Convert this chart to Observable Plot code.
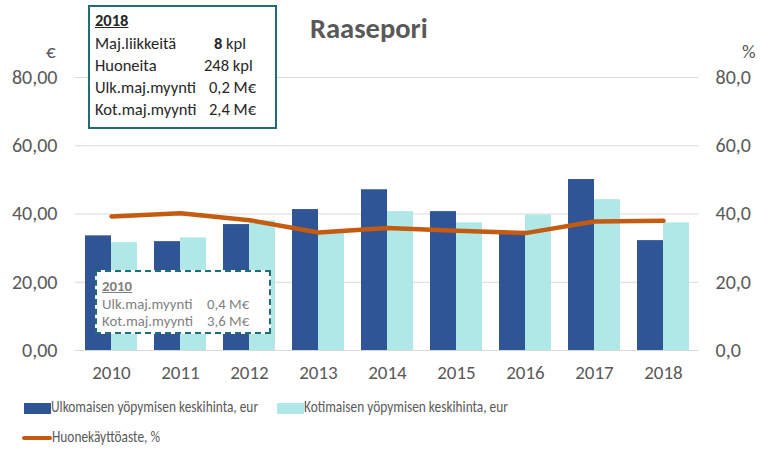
<!DOCTYPE html>
<html>
<head>
<meta charset="utf-8">
<script src="https://cdn.jsdelivr.net/npm/d3@7"></script>
<script src="https://cdn.jsdelivr.net/npm/@observablehq/plot@0.6"></script>
<style>
  html, body { margin: 0; padding: 0; background: #fff; }
  #chart { position: relative; width: 764px; height: 454px; font-family: Carlito, Lato, "Open Sans", sans-serif; color: #595959; overflow: hidden; }
  #chart svg { position: absolute; left: 0; top: 0; }
  .abs { position: absolute; white-space: nowrap; }
  .box1 { left: 88px; top: 5px; width: 185px; height: 120px; border: 2px solid #1E6E78; background: #fff; color: #262626; font-size: 16.5px; }
  .box1 .row { position: absolute; left: 5px; }
  .box1 .val { position: absolute; }
  .box2 { left: 95px; top: 270px; width: 172px; height: 60px; border: 2px dashed #1E6E78; background: #fff; color: #808080; font-size: 14.8px; }
  .box2 .row { position: absolute; left: 5px; }
  .box2 .val { position: absolute; }
  .legend { font-size: 16.5px; color: #595959; line-height: 18px; }
  .legend .txt { display: inline-block; transform: scaleX(0.81); transform-origin: left center; }
  .legend .sw { display: inline-block; vertical-align: middle; }
</style>
</head>
<body>
<div id="chart"></div>
<script>
const years = ["2010","2011","2012","2013","2014","2015","2016","2017","2018"];
const ulkomainen = [33.6, 31.9, 36.9, 41.3, 47.1, 40.7, 34.3, 50.1, 32.2];
const kotimainen = [31.6, 33.0, 38.0, 34.3, 40.7, 37.4, 39.7, 44.2, 37.4];
const kaytto = [39.3, 40.2, 38.2, 34.6, 35.9, 35.1, 34.4, 37.8, 38.0];
const yTicks = [0, 20, 40, 60, 80];

const seriesNames = ["Ulkomaisen yöpymisen keskihinta, eur", "Kotimaisen yöpymisen keskihinta, eur", "Huonekäyttöaste, %"];
const colors = ["#2F5597", "#AFE8E6", "#C55A11"];

const data = years.map((y, i) => ({year: y, ulko: ulkomainen[i], koti: kotimainen[i], kaytto: kaytto[i]}));
const fmt2 = d => d.toFixed(2).replace(".", ",");
const fmt1 = d => d.toFixed(1).replace(".", ",");

const chart = Plot.plot({
  width: 764,
  height: 392,
  marginLeft: 75,
  marginRight: 66,
  marginTop: 77,
  marginBottom: 42,
  style: { fontFamily: "Carlito, Lato, 'Open Sans', sans-serif", fontSize: "19px", color: "#595959", background: "transparent" },
  x: { domain: years, paddingInner: 0.25, paddingOuter: 0.125, label: null, tickSize: 0, tickPadding: 15 },
  y: { domain: [0, 80], axis: null },
  marks: [
    Plot.ruleY(yTicks, { stroke: "#D9D9D9", strokeWidth: 1 }),
    Plot.barY(data, { x: "year", y: "ulko", fill: colors[0], insetRight: 26 }),
    Plot.barY(data, { x: "year", y: "koti", fill: colors[1], insetLeft: 26 }),
    Plot.line(data, { x: "year", y: "kaytto", stroke: colors[2], strokeWidth: 4.5, strokeLinejoin: "round", strokeLinecap: "round" }),
    Plot.text(yTicks, { y: d => d, text: fmt2, frameAnchor: "left", textAnchor: "end", dx: -18, fill: "#595959", fontSize: 20 }),
    Plot.text(yTicks, { y: d => d, text: fmt1, frameAnchor: "right", textAnchor: "start", dx: 17, fill: "#595959", fontSize: 20 })
  ]
});

const root = document.getElementById("chart");
root.appendChild(chart);

function add(html) { root.insertAdjacentHTML("beforeend", html); }

add(`<div class="abs" style="left:310px;top:11px;font-size:28.5px;font-weight:bold;color:#595959;">Raasepori</div>`);
add(`<div class="abs" style="left:46px;top:40px;font-size:19px;">€</div>`);
add(`<div class="abs" style="left:742px;top:40px;font-size:19px;">%</div>`);

add(`<div class="abs box1">
  <div class="row" style="top:3px;font-weight:bold;text-decoration:underline;">2018</div>
  <div class="row" style="top:26px;">Maj.liikkeitä</div><div class="val" style="left:124px;top:26px;"><b>8</b> kpl</div>
  <div class="row" style="top:48px;">Huoneita</div><div class="val" style="left:114px;top:48px;">248 kpl</div>
  <div class="row" style="top:70px;">Ulk.maj.myynti</div><div class="val" style="left:119px;top:70px;">0,2 M€</div>
  <div class="row" style="top:92px;">Kot.maj.myynti</div><div class="val" style="left:119px;top:92px;">2,4 M€</div>
</div>`);

add(`<div class="abs box2">
  <div class="row" style="top:5px;font-weight:bold;text-decoration:underline;">2010</div>
  <div class="row" style="top:23px;">Ulk.maj.myynti</div><div class="val" style="left:110px;top:23px;">0,4 M€</div>
  <div class="row" style="top:40px;">Kot.maj.myynti</div><div class="val" style="left:110px;top:40px;">3,6 M€</div>
</div>`);

add(`<div class="abs legend" style="left:24px;top:397px;"><span class="sw" style="width:27px;height:11px;background:${colors[0]};"></span><span class="txt">${seriesNames[0]}</span></div>`);
add(`<div class="abs legend" style="left:277px;top:397px;"><span class="sw" style="width:27px;height:11px;background:${colors[1]};"></span><span class="txt">${seriesNames[1]}</span></div>`);
add(`<div class="abs legend" style="left:22px;top:427px;"><span class="sw" style="width:30px;height:4px;border-radius:2px;background:${colors[2]};"></span><span class="txt">${seriesNames[2]}</span></div>`);
</script>
</body>
</html>
